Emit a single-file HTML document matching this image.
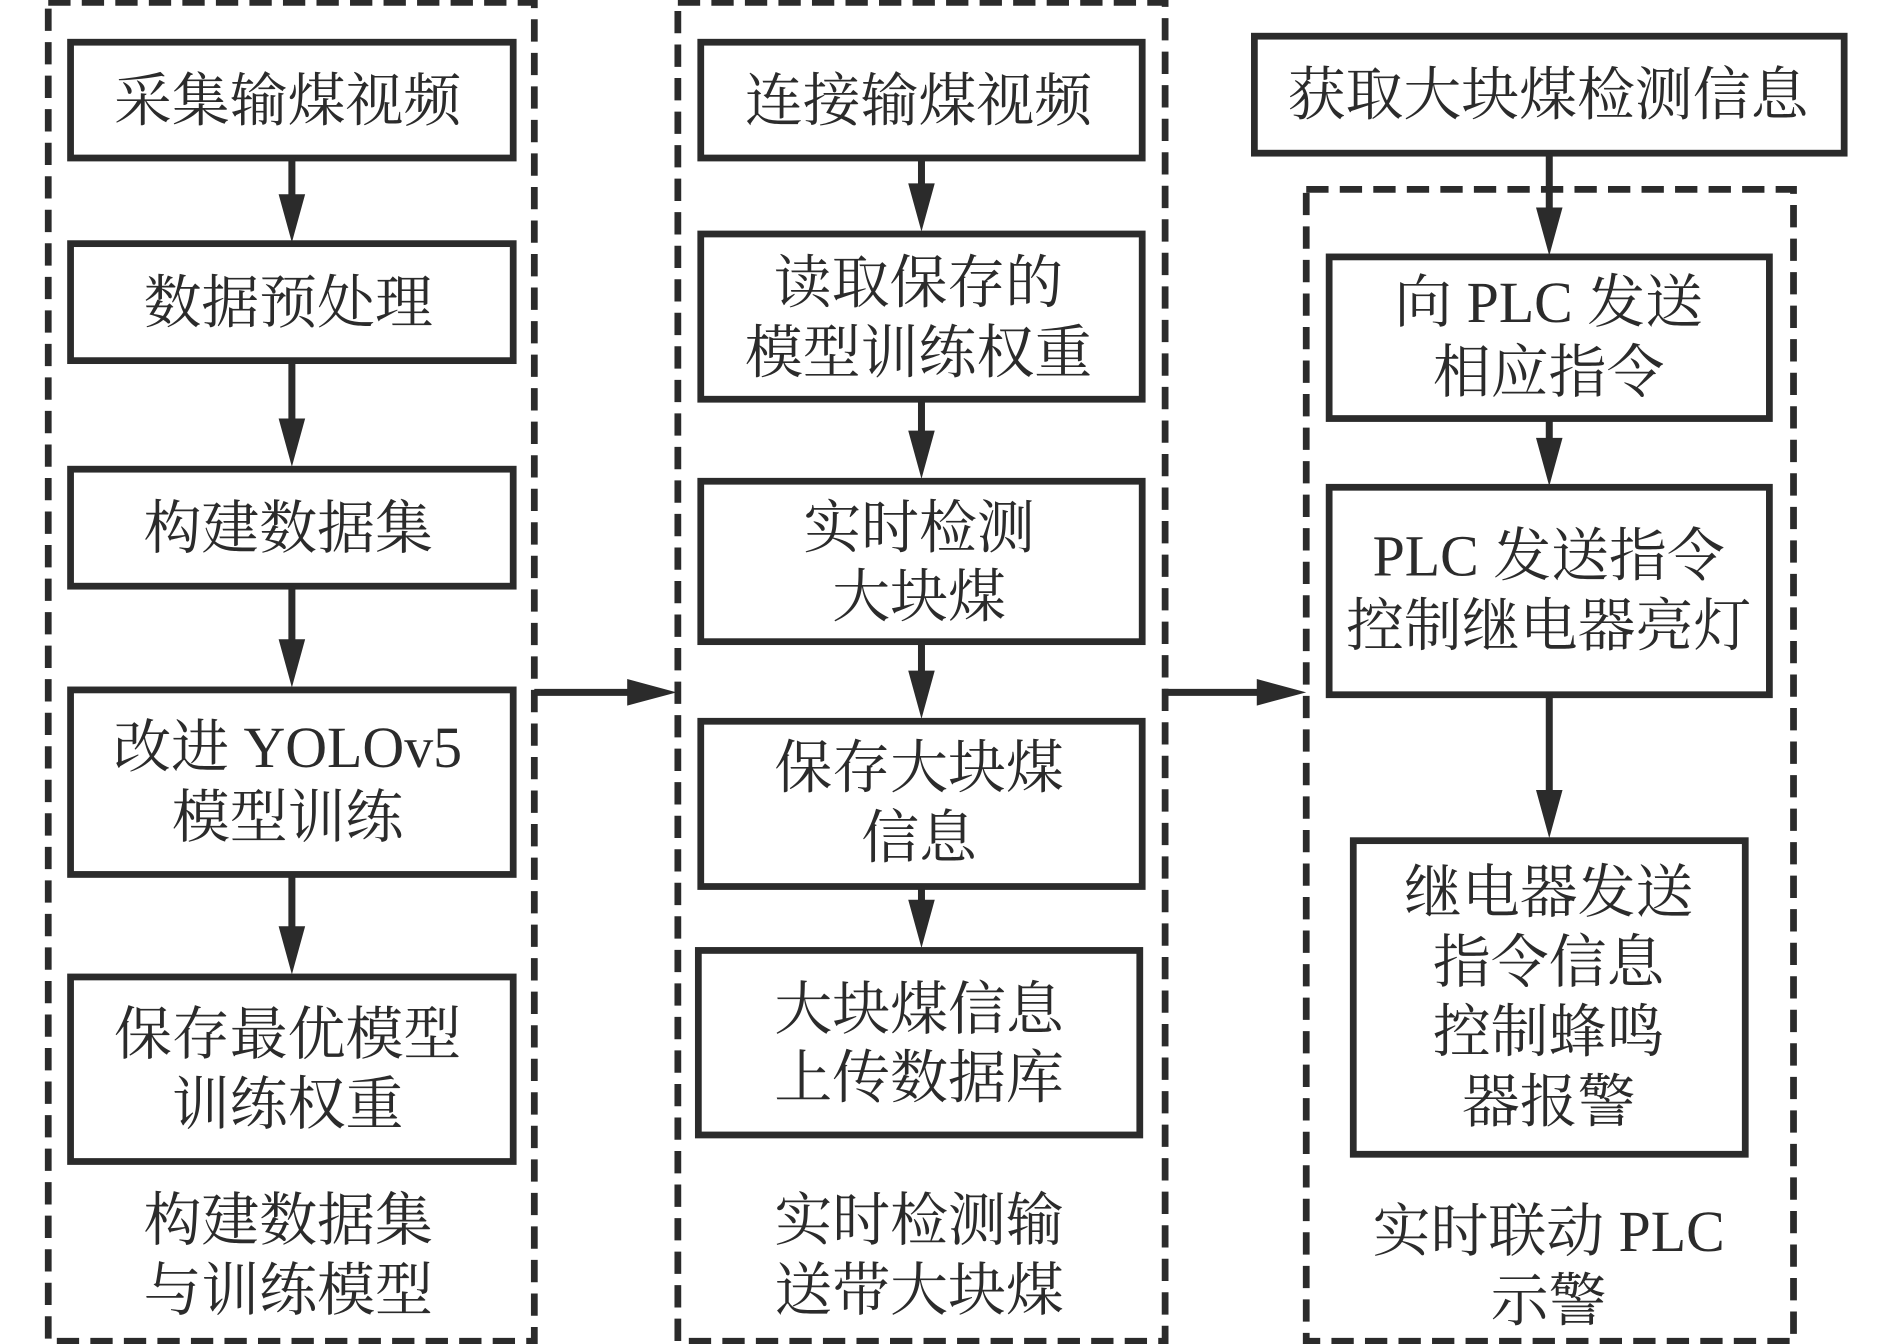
<!DOCTYPE html>
<html lang="zh-CN">
<head>
<meta charset="utf-8">
<title>流程图</title>
<style>
html,body{margin:0;padding:0;background:#fff}
svg{display:block}
text{font-family:"Liberation Serif","Noto Serif CJK SC",serif;font-size:48px;fill:#2b2b2b;text-anchor:middle}
.b{fill:none;stroke:#2b2b2b;stroke-width:5.6}
.d{fill:none;stroke:#2b2b2b;stroke-width:5.6;stroke-dasharray:18.5 9.3}
.l{stroke:#2b2b2b;stroke-width:5.8;fill:none}
.h{fill:#2b2b2b}
</style>
</head>
<body>
<svg width="1890" height="1344" viewBox="0 0 1567 1114.3" xmlns="http://www.w3.org/2000/svg">
<rect x="40" y="2" width="403" height="1110" class="d"/>
<rect x="562" y="2" width="404" height="1110" class="d"/>
<rect x="1083" y="157" width="404" height="955" class="d"/>

<rect x="58.5" y="35" width="367" height="96" class="b"/>
<rect x="58.5" y="202" width="367" height="97" class="b"/>
<rect x="58.5" y="389" width="367" height="97" class="b"/>
<rect x="58.5" y="572" width="367" height="153" class="b"/>
<rect x="58.5" y="810" width="367" height="153" class="b"/>

<rect x="581" y="35" width="366" height="96" class="b"/>
<rect x="581" y="194" width="366" height="137" class="b"/>
<rect x="581" y="399" width="366" height="133" class="b"/>
<rect x="581" y="598" width="366" height="137" class="b"/>
<rect x="579" y="788" width="366" height="153" class="b"/>

<rect x="1040" y="30" width="489" height="97" class="b"/>
<rect x="1102" y="213" width="365" height="134" class="b"/>
<rect x="1102" y="404" width="365" height="172" class="b"/>
<rect x="1122" y="697" width="325" height="260" class="b"/>

<path class="l" d="M242 131V165M242 299V350M242 486V533M242 725V771"/>
<path class="h" d="M231 161H253L242 201ZM231 347H253L242 387ZM231 530H253L242 570ZM231 768H253L242 808Z"/>
<path class="l" d="M764 131V156M764 331V361M764 532V560M764 735V750"/>
<path class="h" d="M753 152H775L764 192ZM753 357H775L764 397ZM753 556H775L764 596ZM753 746H775L764 786Z"/>
<path class="l" d="M1284.500 127V176M1284.500 347V367M1284.500 576V659"/>
<path class="h" d="M1273.500 172H1295.500L1284.500 212ZM1273.500 363H1295.500L1284.500 403ZM1273.500 655H1295.500L1284.500 695Z"/>
<path class="l" d="M443 574H525M965 574H1047"/>
<path class="h" d="M520 563V585L561 574ZM1042 563V585L1083 574Z"/>

<text x="238.500" y="100">采集输煤视频</text>
<text x="239" y="267.500">数据预处理</text>
<text x="239" y="454.500">构建数据集</text>
<text x="238.500" y="636">改进 YOLOv5</text>
<text x="238.500" y="694">模型训练</text>
<text x="238.500" y="874">保存最优模型</text>
<text x="238.500" y="932">训练权重</text>
<text x="239" y="1028">构建数据集</text>
<text x="239" y="1086">与训练模型</text>

<text x="761.500" y="100">连接输煤视频</text>
<text x="761.500" y="251">读取保存的</text>
<text x="761.500" y="309">模型训练权重</text>
<text x="762" y="454">实时检测</text>
<text x="762" y="511">大块煤</text>
<text x="762" y="653">保存大块煤</text>
<text x="762" y="711">信息</text>
<text x="762" y="853">大块煤信息</text>
<text x="762" y="910">上传数据库</text>
<text x="762" y="1028">实时检测输</text>
<text x="762" y="1086">送带大块煤</text>

<text x="1283.500" y="95">获取大块煤检测信息</text>
<text x="1284" y="267">向 PLC 发送</text>
<text x="1284" y="325">相应指令</text>
<text x="1284" y="477">PLC 发送指令</text>
<text x="1284" y="535">控制继电器亮灯</text>
<text x="1284" y="756">继电器发送</text>
<text x="1284" y="814">指令信息</text>
<text x="1284" y="872">控制蜂鸣</text>
<text x="1284" y="930">器报警</text>
<text x="1284" y="1037">实时联动 PLC</text>
<text x="1284" y="1095">示警</text>
</svg>
</body>
</html>
